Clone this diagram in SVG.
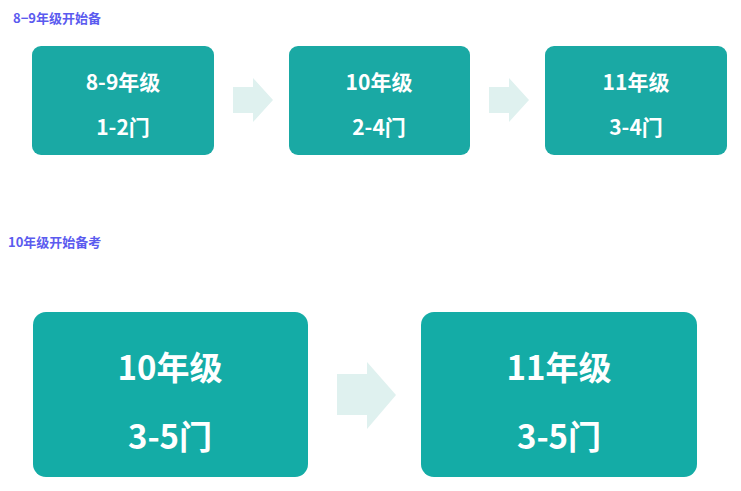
<svg xmlns="http://www.w3.org/2000/svg" width="741" height="491" viewBox="0 0 741 491">
<style>
.box{fill:#1aa9a4}
.boxb{fill:#14aca6}
.arr{fill:#dff1ef}
.t{font-family:"Noto Sans CJK SC","Noto Sans",sans-serif;font-weight:bold;fill:#fff;text-anchor:middle}
.s{font-size:21px}
.l{font-size:33px}
.h{font-family:"Noto Sans CJK SC",serif;font-weight:bold;font-size:13px;fill:#5b5bef}
</style>
<rect width="741" height="491" fill="#fff"/>
<text class="h" x="13" y="23">8−9年级开始备</text>
<text class="h" x="8" y="247">10年级开始备考</text>
<g id="connectors">
<polygon class="arr" points="233,87 253,87 253,78 273,100 253,122 253,113 233,113"/>
<polygon class="arr" points="489,87 509,87 509,78 529,100 509,122 509,113 489,113"/>
<polygon class="arr" points="337,374 367,374 367,362 396,395 367,429 367,415 337,415"/>
</g>
<g id="n1"><rect class="box" x="32" y="46" width="182" height="109" rx="9"/>
<text class="t s" x="123" y="90">8-9年级</text><text class="t s" x="123" y="135">1-2门</text></g>
<g id="n2"><rect class="box" x="289" y="46" width="181" height="109" rx="9"/>
<text class="t s" x="379" y="90">10年级</text><text class="t s" x="379" y="135">2-4门</text></g>
<g id="n3"><rect class="box" x="545" y="46" width="182" height="109" rx="9"/>
<text class="t s" x="636" y="90">11年级</text><text class="t s" x="636" y="135">3-4门</text></g>
<g id="n4"><rect class="boxb" x="33" y="312" width="275" height="165" rx="13"/>
<text class="t l" x="170" y="380">10年级</text><text class="t l" x="170" y="449">3-5门</text></g>
<g id="n5"><rect class="boxb" x="421" y="312" width="276" height="165" rx="13"/>
<text class="t l" x="559" y="380">11年级</text><text class="t l" x="559" y="449">3-5门</text></g>
</svg>
